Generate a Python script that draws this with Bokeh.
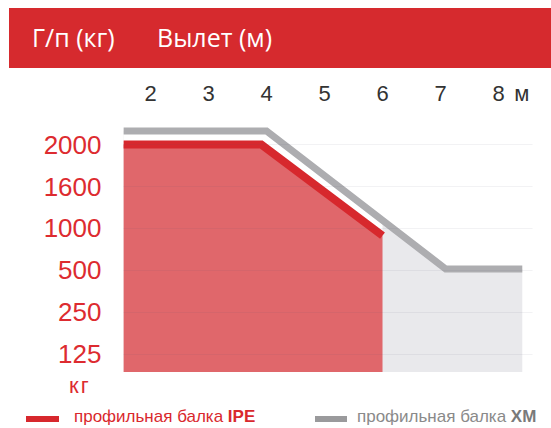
import numpy as np
from bokeh.plotting import figure
from bokeh.models import Range1d, FixedTicker, Div
from bokeh.layouts import column
from bokeh.embed import file_html
from bokeh.resources import INLINE

# ---- data ----
reach_ticks = [2, 3, 4, 5, 6, 7, 8]                 # outreach, m
reach_unit_pos = 8.4                                 # where the "м" unit sits on the top axis
load_levels = [125, 250, 500, 1000, 1600, 2000]     # load, kg (ordinal axis)
load_labels = ["125", "250", "500", "1000", "1600", "2000"]

ipe_reach = [1.53, 3.91, 6.0]        # profile beam IPE
ipe_load = [2000, 2000, 915]
xm_reach = [1.53, 4.0, 7.09, 8.41]   # profile beam XM
xm_load = [2128, 2128, 518, 518]

W = 551
RED = "#d62a2e"
AXFONT = "Liberation Sans"


def to_pos(kg):
    kg = np.asarray(kg, dtype=float)
    idx = np.arange(len(load_levels), dtype=float)
    below = np.interp(kg, load_levels, idx)
    above = idx[-1] + (kg - load_levels[-1]) / (load_levels[-1] - load_levels[-2])
    return np.where(kg > load_levels[-1], above, below)


# ---- header band ----
header = Div(width=W, height=68, margin=0, text=(
    f'<div style="position:relative;margin:8px 0 0 9px;width:{W-9}px;height:60px;'
    f'background:{RED};color:white;font-family:\'Open Sans\';font-size:25px;line-height:1;">'
    '<span style="position:absolute;left:23px;top:17px;white-space:nowrap;">Г/п (кг)</span>'
    '<span style="position:absolute;left:148px;top:17px;white-space:nowrap;">Вылет (м)</span>'
    '</div>'))

# ---- main chart ----
y_bottom, y_top = -0.43, 5.62
p = figure(width=W, height=304, x_range=Range1d(1.534, 8.586), y_range=Range1d(y_bottom, y_top),
           x_axis_location="above", output_backend="svg", toolbar_location=None,
           min_border_left=123, min_border_right=19, min_border_top=50, min_border_bottom=0,
           outline_line_color=None)

xm_pos = to_pos(xm_load)
ipe_pos = to_pos(ipe_load)
xm_at_ipe = np.interp(ipe_reach, xm_reach, xm_pos)

p.varea(x=xm_reach, y1=y_bottom, y2=xm_pos, fill_color="#e9e9ec")
p.varea(x=ipe_reach, y1=ipe_pos, y2=xm_at_ipe, fill_color="white")
p.varea(x=ipe_reach, y1=y_bottom, y2=ipe_pos, fill_color="#e0676b")
p.line(xm_reach, xm_pos, line_color="#adadb0", line_width=7, line_join="miter")
p.line(ipe_reach, ipe_pos, line_color="#d7282d", line_width=8, line_join="miter")

positions = [float(v) for v in to_pos(load_levels)]

xa = p.xaxis[0]
xa.ticker = FixedTicker(ticks=reach_ticks + [reach_unit_pos])
xa.major_label_overrides = {reach_unit_pos: "м"}
xa.axis_line_color = None
xa.major_tick_line_color = None
xa.minor_tick_line_color = None
xa.major_tick_out = 0
xa.major_tick_in = 0
xa.major_label_text_font = AXFONT
xa.major_label_text_font_size = "22px"
xa.major_label_text_color = "#333333"
xa.major_label_standoff = 13

ya = p.yaxis[0]
ya.ticker = FixedTicker(ticks=positions)
ya.major_label_overrides = {pos: lab for pos, lab in zip(positions, load_labels)}
ya.axis_line_color = None
ya.major_tick_line_color = None
ya.minor_tick_line_color = None
ya.major_tick_out = 0
ya.major_tick_in = 0
ya.major_label_text_font = AXFONT
ya.major_label_text_font_size = "26px"
ya.major_label_text_color = "#dd2b30"
ya.major_label_standoff = 22

p.xgrid.visible = False
p.ygrid.ticker = FixedTicker(ticks=positions)
p.ygrid.grid_line_color = "#5a5a70"
p.ygrid.grid_line_alpha = 0.08
p.ygrid.level = "overlay"

# ---- unit label + legend strip ----
legend = Div(width=W, height=56, margin=0, text=(
    f'<div style="position:relative;width:{W}px;height:56px;font-family:\'{AXFONT}\';line-height:1;">'
    '<span style="position:absolute;left:69px;top:3px;font-size:22px;color:#dd2b30;'
    'letter-spacing:2px;white-space:nowrap;">кг</span>'
    '<div style="position:absolute;left:26px;top:44px;width:33px;height:6px;background:#d7282d;"></div>'
    '<span style="position:absolute;left:74px;top:36px;font-size:17px;color:#d9282d;white-space:nowrap;">'
    'профильная балка <b>IPE</b></span>'
    '<div style="position:absolute;left:315px;top:44px;width:32px;height:6px;background:#9a9a9c;"></div>'
    '<span style="position:absolute;left:357px;top:36px;font-size:17px;color:#8a8a8a;white-space:nowrap;">'
    'профильная балка <b style="color:#7a7a7a;">XM</b></span>'
    '</div>'))

layout = column(header, p, legend, spacing=0)
open("out.html", "w").write(file_html(layout, INLINE))
